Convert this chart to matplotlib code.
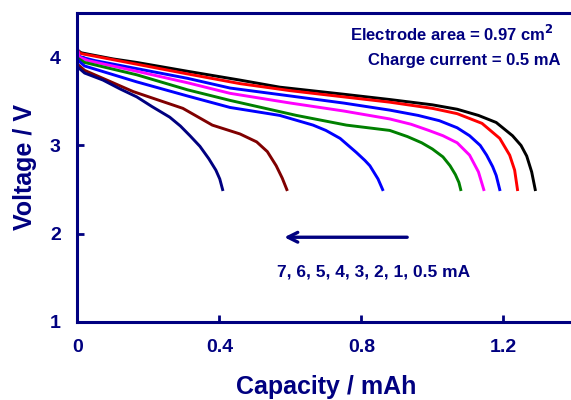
import matplotlib.pyplot as plt

plt.rcParams['font.family'] = ['Liberation Sans', 'DejaVu Sans']
plt.rcParams['font.weight'] = 'bold'

navy = '#000080'

# discharge curves, capacity (mAh) vs voltage (V), one per current
currents = ['0.5 mA', '1 mA', '2 mA', '3 mA', '4 mA', '5 mA', '6 mA', '7 mA']
colors = ['black', 'red', 'blue', 'magenta', 'green', 'blue', '#800000', navy]

cap_05 = [0, 0.01, 0.035, 0.1, 0.167, 0.31, 0.458, 0.57, 0.75, 0.88, 1.0, 1.07, 1.13, 1.18, 1.226, 1.25, 1.266, 1.28, 1.29]
volt_05 = [4.08, 4.05, 4.03, 3.98, 3.94, 3.84, 3.74, 3.66, 3.58, 3.52, 3.46, 3.41, 3.34, 3.26, 3.11, 3.00, 2.88, 2.70, 2.5]

cap_1 = [0, 0.01, 0.05, 0.167, 0.31, 0.458, 0.6, 0.75, 0.88, 1.0, 1.07, 1.14, 1.19, 1.218, 1.232, 1.24]
volt_1 = [4.07, 4.04, 4.01, 3.92, 3.81, 3.70, 3.62, 3.55, 3.49, 3.42, 3.36, 3.25, 3.08, 2.89, 2.72, 2.5]

cap_2 = [0, 0.01, 0.05, 0.167, 0.31, 0.43, 0.6, 0.75, 0.88, 0.96, 1.02, 1.07, 1.105, 1.135, 1.153, 1.17, 1.18, 1.19]
volt_2 = [4.03, 4.00, 3.96, 3.87, 3.76, 3.65, 3.56, 3.48, 3.40, 3.34, 3.28, 3.20, 3.11, 3.00, 2.89, 2.76, 2.66, 2.5]

cap_3 = [0, 0.005, 0.03, 0.167, 0.31, 0.43, 0.6, 0.75, 0.88, 0.94, 0.99, 1.03, 1.07, 1.105, 1.13, 1.145]
volt_3 = [4.10, 4.00, 3.96, 3.84, 3.71, 3.59, 3.48, 3.39, 3.30, 3.24, 3.17, 3.11, 3.03, 2.89, 2.70, 2.5]

cap_4 = [0, 0.02, 0.167, 0.31, 0.43, 0.617, 0.758, 0.88, 0.93, 0.97, 1.0, 1.03, 1.05, 1.065, 1.075, 1.08]
volt_4 = [3.99, 3.94, 3.80, 3.63, 3.51, 3.34, 3.23, 3.17, 3.10, 3.03, 2.96, 2.87, 2.77, 2.67, 2.58, 2.5]

cap_5 = [0, 0.02, 0.167, 0.31, 0.43, 0.57, 0.664, 0.70, 0.74, 0.786, 0.81, 0.824, 0.847, 0.86]
volt_5 = [3.97, 3.90, 3.72, 3.56, 3.43, 3.34, 3.23, 3.17, 3.08, 2.92, 2.83, 2.77, 2.62, 2.5]

cap_6 = [0, 0.02, 0.157, 0.297, 0.38, 0.458, 0.505, 0.535, 0.56, 0.577, 0.59]
volt_6 = [3.92, 3.85, 3.61, 3.42, 3.23, 3.13, 3.04, 2.93, 2.77, 2.63, 2.5]

cap_7 = [0, 0.02, 0.072, 0.12, 0.167, 0.21, 0.26, 0.29, 0.317, 0.345, 0.37, 0.39, 0.401, 0.409]
volt_7 = [3.89, 3.82, 3.74, 3.64, 3.55, 3.44, 3.32, 3.22, 3.11, 2.99, 2.85, 2.72, 2.62, 2.5]

caps = [cap_05, cap_1, cap_2, cap_3, cap_4, cap_5, cap_6, cap_7]
volts = [volt_05, volt_1, volt_2, volt_3, volt_4, volt_5, volt_6, volt_7]

fig = plt.figure(figsize=(5.71, 4.0), dpi=100)
ax = fig.add_axes([0.1357, 0.195, 0.870, 0.7725])

for c, v, col, lab in zip(caps, volts, colors, currents):
    ax.plot(c, v, color=col, lw=2.1, label=lab)

ax.set_xlim(0, 1.4)
ax.set_ylim(1, 4.5)
ax.set_xticks([0, 0.4, 0.8, 1.2])
ax.set_xticklabels(['0', '0.4', '0.8', '1.2'])
ax.set_yticks([1, 2, 3, 4])

for s in ax.spines.values():
    s.set_color(navy)
    s.set_linewidth(2.2)
ax.tick_params(direction='in', length=5, width=2, colors=navy, labelsize=14, pad=12)

ax.set_xlabel('Capacity / mAh', fontsize=18, color=navy, fontweight='bold', labelpad=14)
ax.set_ylabel('Voltage / V', fontsize=18, color=navy, fontweight='bold', labelpad=9)

fig.text(0.97, 0.8975, 'Electrode area = 0.97 cm$^\\mathbf{2}$',
         ha='right', va='baseline', fontsize=12, color=navy, fontweight='bold')
fig.text(0.982, 0.8375, 'Charge current = 0.5 mA',
         ha='right', va='baseline', fontsize=12, color=navy, fontweight='bold')

ax.annotate('', xy=(0.575, 1.96), xytext=(0.937, 1.96),
            arrowprops=dict(arrowstyle='->,head_length=0.7,head_width=0.35', color=navy, lw=2.4))
ax.text(0.834, 1.57, '7, 6, 5, 4, 3, 2, 1, 0.5 mA', ha='center', va='center',
        fontsize=12.5, color=navy, fontweight='bold')

fig.savefig('out.png', dpi=100)
